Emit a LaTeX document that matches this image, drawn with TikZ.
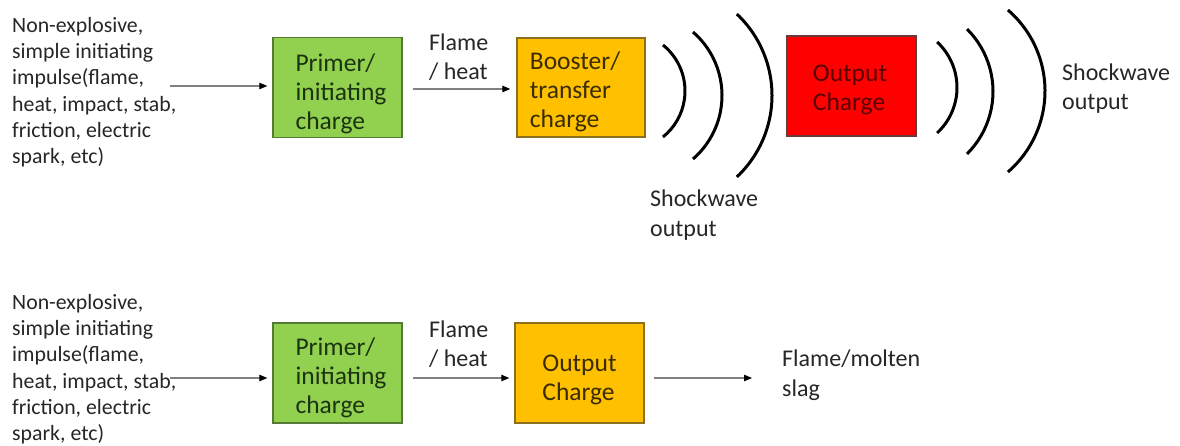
\documentclass[tikz,border=0pt]{standalone}
\usepackage{fontspec}
\setmainfont{Carlito}
\usetikzlibrary{arrows.meta,calc}
\definecolor{gfill}{HTML}{92D050}
\definecolor{gdraw}{HTML}{557A35}
\definecolor{gtext}{HTML}{1C3310}
\definecolor{ofill}{HTML}{FFC000}
\definecolor{odraw}{HTML}{8C7020}
\definecolor{otext}{HTML}{3A2C00}
\definecolor{rfill}{HTML}{FF0000}
\definecolor{rdraw}{HTML}{6A3A3A}
\definecolor{rtext}{HTML}{5A0000}
\definecolor{lgray}{HTML}{808080}
\tikzset{
  box/.style={draw=#1draw, fill=#1fill, line width=1.4pt, minimum width=129pt, minimum height=100pt, inner sep=0pt},
  boxtext/.style={text=#1text, align=left, inner sep=0pt, font=\fontsize{25.5}{29}\selectfont},
  srctext/.style={anchor=north west, align=left, inner sep=0pt, text=black!85, font=\fontsize{21.8}{26.3}\selectfont},
  lbl/.style={anchor=north west, align=left, inner sep=0pt, text=black!85, font=\fontsize{24}{29.5}\selectfont},
  conn/.style={draw=lgray, line width=1.1pt, -{Triangle[length=8pt,width=6.5pt,color=black]}},
  wave/.style={line width=3pt, black}
}
\begin{document}
\begin{tikzpicture}[x=1pt,y=1pt]
\useasboundingbox (0,0) rectangle (1180,-446);
% ---------- top row ----------
\node[srctext] (src1) at (12,-17) {Non-explosive,\\simple initiating\\impulse(flame,\\heat, impact, stab,\\friction, electric\\spark, etc)};
\node[box=g] (g1) at (337.5,-87.5) {};
\node[boxtext=g] (g1t) at (341,-94) {Primer/\\initiating\\charge};
\node[box=o, minimum width=128pt, minimum height=99pt] (o1) at (581,-87.5) {};
\node[boxtext=o] (o1t) at (575,-92) {Booster/\\transfer\\charge};
\node[box=r] (r1) at (851.5,-86) {};
\node[boxtext=r] (r1t) at (850,-89.5) {Output\\Charge};
\coordinate (s1) at (170,-86);
\draw[conn, shorten >=5pt] (s1) -- (s1 -| g1.west);
\draw[conn, shorten <=10pt, shorten >=6pt] ([yshift=-1.5pt]g1.east) -- ([yshift=-1.5pt]o1.west);
\node[lbl] (fh1) at (429,-33.5) {Flame\\/ heat};
% waves after booster
\foreach \cx/\cy/\R/\t in {626/91/59/51.2, 638/95.5/84/49.1, 660/95.5/112/46.7}
  \draw[wave] (\cx,-\cy) ++(\t:\R pt) arc[start angle=\t, end angle=-\t, radius=\R pt];
\node[lbl] (sw1) at (650,-190) {Shockwave\\output};
% waves after output
\foreach \cx/\cy/\R/\t in {895/87.5/62/47.2, 905/91.5/88/45.2, 938/91/107/49.2}
  \draw[wave] (\cx,-\cy) ++(\t:\R pt) arc[start angle=\t, end angle=-\t, radius=\R pt];
\node[lbl] (sw2) at (1062,-63.4) {Shockwave\\output};
% ---------- bottom row ----------
\node[srctext] (src2) at (12,-294) {Non-explosive,\\simple initiating\\impulse(flame,\\heat, impact, stab,\\friction, electric\\spark, etc)};
\node[box=g] (g2) at (337.5,-373) {};
\node[boxtext=g] (g2t) at (341,-378) {Primer/\\initiating\\charge};
\node[box=o] (o2) at (579.5,-373) {};
\node[boxtext=o] (o2t) at (579.5,-379.5) {Output\\Charge};
\coordinate (s2) at (170,-378);
\draw[conn, shorten >=5pt] (s2) -- (s2 -| g2.west);
\draw[conn, shorten <=10pt, shorten >=5pt] ([yshift=-5pt]g2.east) -- ([yshift=-5pt]o2.west);
\node[lbl] (fh2) at (429,-320.4) {Flame\\/ heat};
\coordinate (e2) at (752,-378);
\draw[conn, shorten <=9pt] ([yshift=-5pt]o2.east) -- (e2);
\node[lbl] (fm) at (782,-350) {Flame/molten\\slag};
\end{tikzpicture}
\end{document}
